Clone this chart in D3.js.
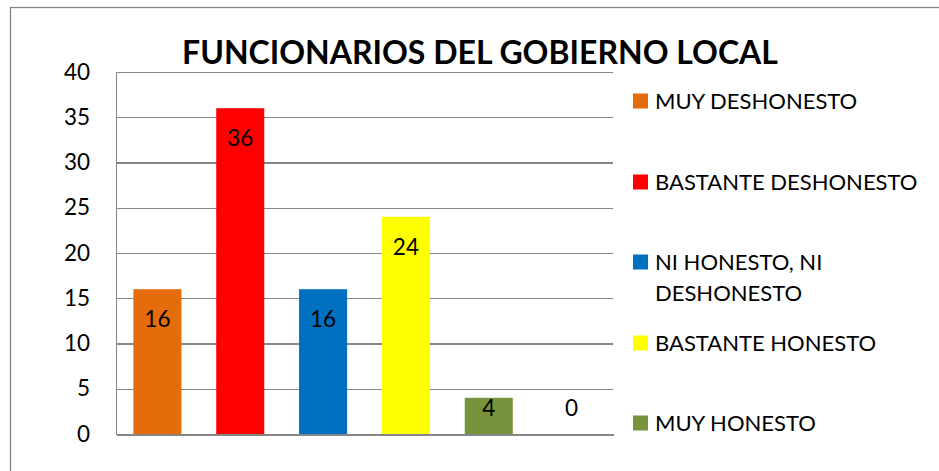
<!DOCTYPE html>
<html>
<head>
<meta charset="utf-8">
<script src="https://cdn.jsdelivr.net/npm/d3@7"></script>
<style>
  body { margin: 0; background: #fff; }
  svg { display: block; }
  text { font-family: Lato, "Open Sans", sans-serif; fill: #000; }
</style>
</head>
<body>
<svg id="chart" width="939" height="471"></svg>
<script>
// Survey answers about local government officials
const title = "FUNCIONARIOS DEL GOBIERNO LOCAL";
const categories = ["MUY DESHONESTO", "BASTANTE DESHONESTO", "NI HONESTO, NI DESHONESTO", "BASTANTE HONESTO", "MUY HONESTO", ""];
const values = [16, 36, 16, 24, 4, 0];
const colors = ["#E46C0A", "#FF0000", "#0070C0", "#FFFF00", "#77933C", "#4BACC6"];
const yTicks = [0, 5, 10, 15, 20, 25, 30, 35, 40];

const svg = d3.select("#chart");
const grey = "#868686";

const plot = { left: 116, right: 613, top: 72, bottom: 434 };

// outer frame of the chart
svg.append("rect")
  .attr("x", 10.5).attr("y", 7.5)
  .attr("width", 1000).attr("height", 1000)
  .attr("fill", "none").attr("stroke", grey).attr("stroke-width", 1.3);

const x = d3.scaleBand()
  .domain(d3.range(values.length))
  .range([plot.left, plot.right])
  .paddingInner(0.42)
  .paddingOuter(0.21);

const y = d3.scaleLinear()
  .domain([0, 40])
  .range([plot.bottom, plot.top]);

// value axis with gridlines across the plot
const yAxis = svg.append("g")
  .attr("transform", `translate(${plot.left},0)`)
  .call(d3.axisLeft(y)
    .tickValues(yTicks)
    .tickSize(-(plot.right - plot.left))
    .tickSizeOuter(0)
    .tickPadding(26));
yAxis.selectAll("line").attr("stroke", grey).attr("stroke-width", 1.3).attr("shape-rendering", "crispEdges");
yAxis.select(".domain").attr("stroke", grey).attr("stroke-width", 1.3).attr("shape-rendering", "crispEdges");
yAxis.selectAll("text").attr("font-size", 22.5).attr("font-family", "Lato, 'Open Sans', sans-serif").attr("fill", "#000");

// category axis line only
const xAxis = svg.append("g")
  .attr("transform", `translate(0,${plot.bottom})`)
  .call(d3.axisBottom(x).tickSize(0).tickFormat(""));
xAxis.select(".domain").attr("stroke", grey).attr("stroke-width", 2).attr("shape-rendering", "crispEdges");

// bars
svg.append("g").selectAll("rect")
  .data(values)
  .join("rect")
  .attr("x", (d, i) => x(i))
  .attr("y", d => y(d))
  .attr("width", x.bandwidth())
  .attr("height", d => y(0) - y(d))
  .attr("fill", (d, i) => colors[i]);

// value labels just inside the top of each bar
svg.append("g").selectAll("text")
  .data(values)
  .join("text")
  .attr("x", (d, i) => x(i) + x.bandwidth() / 2)
  .attr("y", d => Math.min(y(d) + 30, y(0) - 26))
  .attr("dy", "0.36em")
  .attr("text-anchor", "middle")
  .attr("font-size", 22.5)
  .text(d => d);

// title
svg.append("text")
  .attr("x", 480).attr("y", 52)
  .attr("dy", "0.36em")
  .attr("text-anchor", "middle")
  .attr("font-size", 32)
  .attr("font-weight", 700)
  .text(title);

// legend
const legendRows = [101, 182, 262, 343, 423];
const legend = svg.append("g");
categories.forEach((name, i) => {
  if (!name) return;
  const g = legend.append("g").attr("transform", `translate(633,${legendRows[i]})`);
  g.append("rect").attr("x", 0).attr("y", -7.5).attr("width", 15).attr("height", 15).attr("fill", colors[i]);
  const t = g.append("text").attr("x", 22).attr("y", 0).attr("font-size", 22);
  // wrap long names onto a second line
  const words = name.split(" ");
  let line = [];
  let tspan = t.append("tspan").attr("x", 22).attr("dy", "0.36em");
  words.forEach(w => {
    line.push(w);
    tspan.text(line.join(" "));
    if (tspan.node().getComputedTextLength() > 280 && line.length > 1) {
      line.pop();
      tspan.text(line.join(" "));
      line = [w];
      tspan = t.append("tspan").attr("x", 22).attr("dy", "1.4em").text(w);
    }
  });
});
</script>
</body>
</html>
